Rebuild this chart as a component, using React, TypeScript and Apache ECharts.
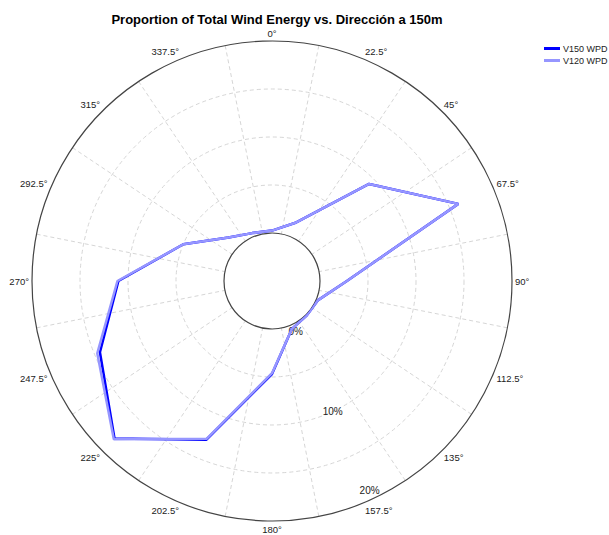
import React, { useEffect, useRef } from "react";
import * as echarts from "echarts";

const directions = [
  "0°", "22.5°", "45°", "67.5°", "90°", "112.5°", "135°", "157.5°",
  "180°", "202.5°", "225°", "247.5°", "270°", "292.5°", "315°", "337.5°",
];
// Proportion of total wind energy (%) per direction
const v150 = [0.25, 1.6, 9.3, 16.0, 2.8, 0.2, 0.1, 0.4, 4.7, 12.9, 18.2, 14.4, 11.0, 5.0, 1.4, 0.4];
const v120 = [0.25, 1.6, 9.3, 16.0, 2.8, 0.2, 0.1, 0.4, 4.6, 12.8, 18.3, 14.7, 11.1, 5.0, 1.4, 0.4];
const radiusTicks = [0, 10, 20];

const FONT = "Liberation Sans";

function closed(vals: number[]) {
  const pts = vals.map((v, i) => [v, directions[i]]);
  pts.push([vals[0], directions[0]]);
  return pts;
}

export default function App() {
  const ref = useRef<HTMLDivElement>(null);
  useEffect(() => {
    if (!ref.current) return;
    const chart = echarts.init(ref.current, null, { renderer: "svg" });
    chart.setOption({
      animation: false,
      backgroundColor: "#ffffff",
      title: {
        text: "Proportion of Total Wind Energy vs. Dirección a 150m",
        left: 272,
        top: 8,
        textAlign: "center",
        textStyle: { fontFamily: FONT, fontSize: 13, fontWeight: "bold", color: "#000" },
      },
      legend: {
        orient: "vertical",
        left: 539,
        top: 39,
        itemWidth: 16,
        itemHeight: 3,
        itemGap: 3,
        icon: "rect",
        data: ["V150 WPD", "V120 WPD"],
        textStyle: { fontFamily: FONT, fontSize: 9, color: "#222", padding: [0, 0, 0, -2] },
      },
      polar: [
        { center: [272, 281], radius: [48, 240] },
        { center: [272, 281], radius: [56, 231] },
      ],
      angleAxis: [
        {
          polarIndex: 0,
          type: "category",
          data: directions,
          startAngle: 90 + 11.25,
          clockwise: true,
          boundaryGap: true,
          axisLine: { show: true, lineStyle: { color: "#444", width: 1.2 } },
          axisTick: { show: false },
          axisLabel: { fontFamily: FONT, fontSize: 9.5, color: "#222", margin: 3 },
          splitLine: { show: true, lineStyle: { color: "#d6d6d6", type: [4, 3], width: 1 } },
        },
        {
          polarIndex: 1,
          type: "value",
          min: 0,
          max: 360,
          startAngle: -65,
          show: false,
        },
      ],
      radiusAxis: [
        {
          polarIndex: 0,
          type: "value",
          min: 0,
          max: 20,
          interval: 5,
          axisLine: { show: false },
          axisTick: { show: false },
          axisLabel: { show: false },
          splitLine: {
            show: true,
            lineStyle: {
              color: ["rgba(0,0,0,0)", "#d6d6d6", "#d6d6d6", "#d6d6d6", "rgba(0,0,0,0)"],
              type: [4, 3],
              width: 1,
            },
          },
        },
        {
          polarIndex: 1,
          type: "value",
          min: radiusTicks[0],
          max: radiusTicks[radiusTicks.length - 1],
          interval: 10,
          axisLine: { show: false },
          axisTick: { show: false },
          splitLine: { show: false },
          axisLabel: {
            formatter: "{value}%",
            margin: 0,
            align: "center",
            verticalAlign: "middle",
            fontFamily: FONT,
            fontSize: 10,
            color: "#222",
          },
        },
      ],
      series: [
        {
          name: "V150 WPD",
          type: "line",
          coordinateSystem: "polar",
          polarIndex: 0,
          data: closed(v150),
          symbol: "none",
          color: "#0000ff",
          lineStyle: { color: "#0000ff", width: 2.5 },
        },
        {
          name: "V120 WPD",
          type: "line",
          coordinateSystem: "polar",
          polarIndex: 0,
          data: closed(v120),
          symbol: "none",
          color: "#9696ff",
          lineStyle: { color: "#9696ff", width: 2.5 },
        },
      ],
    });
    return () => chart.dispose();
  }, []);
  return (
    <div
      ref={ref}
      style={{ position: "fixed", left: 0, top: 0, width: 609, height: 535 }}
    />
  );
}
